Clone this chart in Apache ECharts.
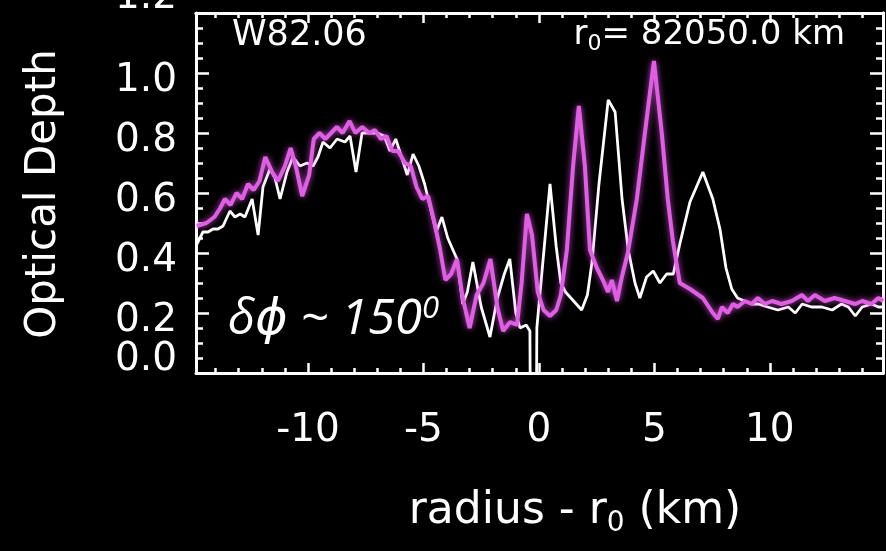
<!DOCTYPE html>
<html>
<head>
<meta charset="utf-8">
<script src="https://cdn.jsdelivr.net/npm/echarts@6/dist/echarts.min.js"></script>
<style>
  html, body { margin: 0; padding: 0; background: #000; }
  #chart { width: 886px; height: 551px; }
</style>
</head>
<body>
<div id="chart"></div>
<script>
// Radial optical-depth profiles around r0 = 82050.0 km (wave W82.06)
const whiteRadius = [-14.81,-14.55,-14.33,-14.11,-13.9,-13.68,-13.38,-13.16,-12.94,-12.73,-12.42,-12.16,-11.95,-11.65,-11.43,-11.21,-10.91,-10.65,-10.35,-10.04,-9.78,-9.57,-9.35,-9.05,-8.74,-8.4,-8.18,-7.92,-7.66,-7.32,-7.0,-6.7,-6.45,-6.2,-5.95,-5.7,-5.45,-5.2,-4.95,-4.7,-4.45,-4.2,-3.95,-3.55,-3.3,-3.1,-2.86,-2.5,-2.12,-1.8,-1.5,-1.26,-1.0,-0.82,-0.55,-0.39,-0.36,-0.12,-0.09,0.48,0.75,0.95,1.15,1.5,1.85,2.1,2.3,2.6,3.0,3.3,3.6,3.87,4.16,4.37,4.66,4.95,5.24,5.53,5.82,6.1,6.54,7.1,7.53,7.84,8.1,8.35,8.6,8.9,9.2,9.5,9.9,10.35,10.8,11.1,11.4,11.8,12.25,12.7,13.1,13.4,13.7,14.0,14.4,14.7,14.9];
const whiteDepth = [0.43,0.47,0.47,0.48,0.48,0.49,0.54,0.52,0.53,0.52,0.58,0.46,0.62,0.68,0.65,0.58,0.67,0.72,0.69,0.70,0.69,0.72,0.77,0.75,0.78,0.77,0.79,0.67,0.80,0.80,0.80,0.79,0.74,0.78,0.72,0.66,0.73,0.69,0.63,0.55,0.47,0.52,0.45,0.38,0.23,0.27,0.37,0.22,0.12,0.25,0.33,0.38,0.20,0.15,0.16,0.14,-0.3,-0.3,0.15,0.63,0.42,0.30,0.27,0.24,0.21,0.26,0.37,0.63,0.91,0.87,0.58,0.41,0.30,0.25,0.32,0.34,0.30,0.33,0.33,0.43,0.57,0.67,0.58,0.48,0.35,0.28,0.25,0.24,0.23,0.23,0.22,0.21,0.22,0.20,0.23,0.22,0.22,0.21,0.23,0.22,0.19,0.22,0.23,0.22,0.22];

const magentaRadius = [-14.81,-14.4,-14.05,-13.8,-13.6,-13.35,-13.1,-12.85,-12.6,-12.35,-12.1,-11.85,-11.55,-11.3,-11.0,-10.75,-10.5,-10.25,-9.95,-9.75,-9.5,-9.25,-8.75,-8.5,-8.2,-7.95,-7.65,-7.35,-7.1,-6.85,-6.6,-6.35,-6.1,-5.8,-5.55,-5.3,-5.05,-4.8,-4.55,-4.3,-4.05,-3.8,-3.55,-3.3,-3.0,-2.7,-2.4,-2.1,-1.8,-1.55,-1.25,-0.95,-0.75,-0.52,-0.3,-0.05,0.2,0.48,0.75,0.95,1.21,1.48,1.73,1.99,2.21,2.51,2.77,2.99,3.16,3.38,3.59,3.85,4.24,4.59,4.98,5.32,5.58,5.8,6.1,6.54,7.1,7.53,7.75,7.92,8.18,8.4,8.6,8.92,9.22,9.48,9.78,10.1,10.5,10.95,11.39,11.65,11.95,12.38,12.8,13.25,13.7,14.0,14.4,14.7,14.9];
const magentaDepth = [0.49,0.50,0.52,0.55,0.58,0.56,0.60,0.58,0.63,0.61,0.64,0.72,0.67,0.64,0.69,0.75,0.68,0.59,0.66,0.78,0.80,0.78,0.82,0.80,0.84,0.80,0.82,0.80,0.81,0.78,0.79,0.74,0.74,0.70,0.69,0.62,0.58,0.59,0.51,0.42,0.31,0.33,0.38,0.25,0.15,0.26,0.30,0.38,0.22,0.14,0.17,0.16,0.30,0.53,0.46,0.27,0.21,0.19,0.21,0.26,0.41,0.69,0.89,0.69,0.41,0.35,0.31,0.27,0.31,0.24,0.32,0.40,0.58,0.80,1.04,0.80,0.58,0.44,0.30,0.28,0.25,0.20,0.18,0.22,0.20,0.23,0.22,0.24,0.23,0.25,0.23,0.24,0.23,0.24,0.26,0.24,0.26,0.24,0.25,0.24,0.23,0.24,0.23,0.25,0.24];

// Axis ranges and tick positions
const xRange = [-14.85, 14.9];
const yRange = [0, 1.2];
const xMajorTicks = [-10, -5, 0, 5, 10];
const xMinorTicks = [-14,-13,-12,-11,-9,-8,-7,-6,-4,-3,-2,-1,1,2,3,4,6,7,8,9,11,12,13,14];
const yMajorTicks = [0, 0.2, 0.4, 0.6, 0.8, 1.0, 1.2];
const yMinorTicks = [0.05,0.1,0.15,0.25,0.3,0.35,0.45,0.5,0.55,0.65,0.7,0.75,0.85,0.9,0.95,1.05,1.1,1.15];

const FG = '#ffffff';
const FONT = 'DejaVu Sans';

function xAxis(position, ticks, len, labels) {
  return {
    type: 'value', position: position, min: xRange[0], max: xRange[1],
    axisLine: { show: !!labels || position === 'top', onZero: false, lineStyle: { color: FG, width: 3 } },
    axisTick: { show: true, inside: true, length: len, customValues: ticks, lineStyle: { color: FG, width: 2.5 } },
    axisLabel: labels ? {
      show: true, customValues: ticks, color: FG, fontFamily: FONT, fontSize: 39, margin: 38,
      showMinLabel: true, showMaxLabel: true, hideOverlap: false,
      formatter: v => String(v)
    } : { show: false },
    splitLine: { show: false }
  };
}

function yAxis(position, ticks, len, labels) {
  return {
    type: 'value', position: position, min: yRange[0], max: yRange[1],
    axisLine: { show: !!labels || position === 'right', onZero: false, lineStyle: { color: FG, width: 3 } },
    axisTick: { show: true, inside: true, length: len, customValues: ticks, lineStyle: { color: FG, width: 2.5 } },
    axisLabel: labels ? {
      show: true, customValues: ticks, margin: 19,
      showMinLabel: true, showMaxLabel: true, hideOverlap: false,
      formatter: v => {
        const s = v.toFixed(1);
        if (Math.abs(v) < 1e-9) return '{lo|' + s + '}';
        if (v > 1.19) return '{hi|' + s + '}';
        return '{n|' + s + '}';
      },
      rich: {
        n:  { color: FG, fontFamily: FONT, fontSize: 39, padding: [16, 0, 0, 0] },
        lo: { color: FG, fontFamily: FONT, fontSize: 39, padding: [0, 0, 26, 0] },
        hi: { color: FG, fontFamily: FONT, fontSize: 39, padding: [0, 0, 30, 0] }
      }
    } : { show: false },
    splitLine: { show: false }
  };
}

const chart = echarts.init(document.getElementById('chart'), null, { renderer: 'canvas' });

chart.setOption({
  backgroundColor: '#000',
  animation: false,
  grid: { left: 196, right: 3, top: 13, bottom: 178, containLabel: false, outerBoundsMode: 'none' },
  xAxis: [
    xAxis('bottom', xMajorTicks, 10, true),
    xAxis('bottom', xMinorTicks, 5, false),
    xAxis('top', xMajorTicks, 10, false),
    xAxis('top', xMinorTicks, 5, false)
  ],
  yAxis: [
    yAxis('left', yMajorTicks, 13, true),
    yAxis('left', yMinorTicks, 7, false),
    yAxis('right', yMajorTicks, 13, false),
    yAxis('right', yMinorTicks, 7, false)
  ],
  series: [
    {
      name: 'white', type: 'line', xAxisIndex: 0, yAxisIndex: 0,
      data: whiteRadius.map((r, i) => [r, whiteDepth[i]]),
      showSymbol: false, symbol: 'none', clip: true, z: 3,
      lineStyle: { color: '#ffffff', width: 2.8 }
    },
    {
      name: 'magenta', type: 'line', xAxisIndex: 0, yAxisIndex: 0,
      data: magentaRadius.map((r, i) => [r, magentaDepth[i]]),
      showSymbol: false, symbol: 'none', clip: true, z: 4,
      lineStyle: { color: '#df5ee4', width: 4, shadowBlur: 6, shadowColor: 'rgba(230,90,235,0.8)' }
    }
  ],
  graphic: [
    {
      type: 'text', left: 232, top: 18,
      style: { text: 'W82.06', fill: FG, font: '35px "DejaVu Sans"' }
    },
    {
      type: 'text', right: 41, top: 18,
      style: {
        text: '{a|r}{s|0}{a|= 82050.0 km}',
        rich: {
          a: { fill: FG, fontFamily: FONT, fontSize: 34 },
          s: { fill: FG, fontFamily: FONT, fontSize: 22, padding: [18, 0, 0, 0] }
        }
      }
    },
    {
      type: 'text', left: 228, top: 294,
      style: {
        text: '{a|δϕ ~ 150}{s|0}',
        rich: {
          a: { fill: FG, fontFamily: '"Open Sans", "DejaVu Sans"', fontStyle: 'italic', fontSize: 49 },
          s: { fill: FG, fontFamily: '"Open Sans", "DejaVu Sans"', fontStyle: 'italic', fontSize: 31, padding: [0, 0, 22, 0] }
        }
      }
    },
    {
      type: 'text', x: 44, y: 194, rotation: Math.PI / 2,
      style: { text: 'Optical Depth', fill: FG, font: '42px "DejaVu Sans"', align: 'center', verticalAlign: 'middle' }
    },
    {
      type: 'text', x: 575, y: 512,
      style: {
        text: '{a|radius - r}{s|0}{a| (km)}',
        align: 'center', verticalAlign: 'middle',
        rich: {
          a: { fill: FG, fontFamily: FONT, fontSize: 44 },
          s: { fill: FG, fontFamily: FONT, fontSize: 28, padding: [24, 0, 0, 0] }
        }
      }
    }
  ]
});
</script>
</body>
</html>
